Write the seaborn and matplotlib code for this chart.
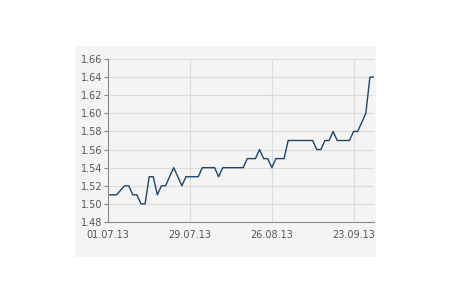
import matplotlib
matplotlib.use("Agg")
import matplotlib.pyplot as plt
import matplotlib.patches as mpatches
import seaborn as sns
import pandas as pd
import numpy as np

# Business days 01.07.2013 - 30.09.2013
dates = pd.bdate_range("2013-07-01", "2013-09-30")
values = [
    1.51, 1.51, 1.51, 1.515, 1.52, 1.52, 1.51, 1.51, 1.50, 1.50,
    1.53, 1.53, 1.51, 1.52, 1.52, 1.53, 1.54, 1.53, 1.52, 1.53,
    1.53, 1.53, 1.53, 1.54, 1.54, 1.54, 1.54, 1.53, 1.54, 1.54,
    1.54, 1.54, 1.54, 1.54, 1.55, 1.55, 1.55, 1.56, 1.55, 1.55,
    1.54, 1.55, 1.55, 1.55, 1.57, 1.57, 1.57, 1.57, 1.57, 1.57,
    1.57, 1.56, 1.56, 1.57, 1.57, 1.58, 1.57, 1.57, 1.57, 1.57,
    1.58, 1.58, 1.59, 1.60, 1.64, 1.64,
]
tick_labels = ["01.07.13", "29.07.13", "26.08.13", "23.09.13"]
y_ticks = [1.48, 1.50, 1.52, 1.54, 1.56, 1.58, 1.60, 1.62, 1.64, 1.66]

df = pd.DataFrame({"date": dates[:len(values)], "value": values})
df["idx"] = np.arange(len(df))
tick_pos = [int(np.where(df["date"].dt.strftime("%d.%m.%y") == t)[0][0]) for t in tick_labels]

sns.set_style("white")
plt.rcParams["font.family"] = ["DejaVu Sans"]

fig = plt.figure(figsize=(4.5, 3.0), dpi=100)
fig.patch.set_facecolor("white")
panel_color = "#f4f4f4"
fig.add_artist(mpatches.Rectangle((75 / 450, 43 / 300), 301 / 450, 211 / 300,
                                  transform=fig.transFigure, facecolor=panel_color,
                                  edgecolor="none", zorder=0))

ax = fig.add_axes([108.3 / 450, 78 / 300, 265.7 / 450, 163 / 300])
ax.set_facecolor(panel_color)

sns.lineplot(data=df, x="idx", y="value", ax=ax, color="#1f4668", linewidth=1.0)

ax.set_xlim(0, len(values) - 1)
ax.set_ylim(1.48, 1.66)
ax.set_yticks(y_ticks)
ax.set_yticklabels([f"{v:.2f}" for v in y_ticks])
ax.set_xticks(tick_pos)
ax.set_xticklabels(tick_labels)
ax.set_xlabel("")
ax.set_ylabel("")

ax.grid(True, color="#dcdcdc", linewidth=0.8)
ax.set_axisbelow(True)
for s in ["top", "right"]:
    ax.spines[s].set_visible(False)
for s in ["left", "bottom"]:
    ax.spines[s].set_color("#8a8a8a")
    ax.spines[s].set_linewidth(0.8)

ax.tick_params(axis="y", length=3, width=0.8, color="#8a8a8a", labelsize=7,
               labelcolor="#555555", pad=1, left=True)
ax.tick_params(axis="x", length=0, labelsize=7, labelcolor="#555555", pad=6)

fig.savefig("out.png", dpi=100, facecolor="white")
